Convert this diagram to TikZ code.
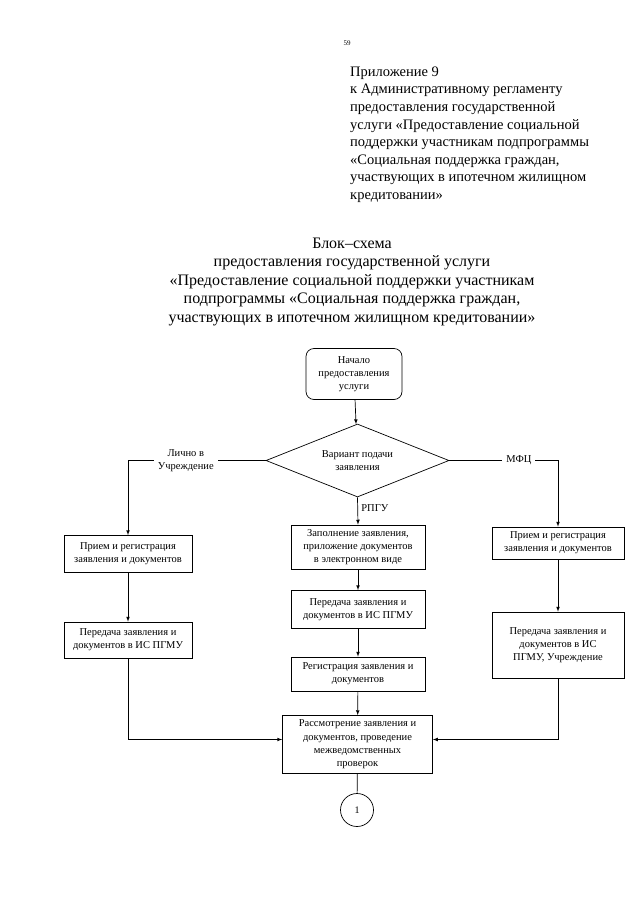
\documentclass[tikz,border=0pt]{standalone}
\usepackage{fontspec}
\setmainfont{Liberation Serif}
\usetikzlibrary{shapes.geometric,arrows,positioning}

\begin{document}
\begin{tikzpicture}[x=1pt,y=-1pt,
item/.style={rectangle,draw,line width=0.7pt,align=center,inner sep=1pt,
  font=\fontsize{10.5}{13.3}\selectfont},
itemr/.style={item,rounded corners=8pt},
cond/.style={diamond,draw,line width=0.7pt,aspect=2.5,inner sep=0pt,align=center,
  minimum width=183pt,minimum height=73pt,font=\fontsize{10.5}{13.3}\selectfont},
lbl/.style={fill=white,align=center,inner sep=4pt,font=\fontsize{10.5}{13.3}\selectfont},
arr/.style={line width=0.7pt,-latex}]
\useasboundingbox (0,0) rectangle (640,905);

\node[font=\fontsize{7}{8}\selectfont] (pg) at (347,43) {59};
\node[anchor=north west,align=left,inner sep=0pt,font=\fontsize{14.5}{17.6}\selectfont] (hdr) at (350,66.5)
{Приложение 9\\к Административному регламенту\\предоставления государственной\\услуги «Предоставление социальной\\поддержки участникам подпрограммы\\«Социальная поддержка граждан,\\участвующих в ипотечном жилищном\\кредитовании»};
\node[anchor=north,align=center,inner sep=0pt,font=\fontsize{16}{18.5}\selectfont] (ttl) at (352,237.5)
{Блок–схема\\предоставления государственной услуги\\«Предоставление социальной поддержки участникам\\подпрограммы «Социальная поддержка граждан,\\участвующих в ипотечном жилищном кредитовании»};

\node[itemr,minimum width=96pt,minimum height=51pt] (start) at (354,374) {Начало\\предоставления\\услуги};
\node[cond] (cond) at (357.5,460.5) {Вариант подачи\\заявления};

\node[item,minimum width=128pt,minimum height=37pt] (l1) at (128,554) {Прием и регистрация\\заявления и документов};
\node[item,minimum width=128pt,minimum height=36pt] (l2) at (128,640) {Передача заявления и\\документов в ИС ПГМУ};

\node[item,minimum width=134pt,minimum height=44pt] (c1) at (358,547) {Заполнение заявления,\\приложение документов\\в электронном виде};
\node[item,minimum width=134pt,minimum height=38pt] (c2) at (358,609.5) {Передача заявления и\\документов в ИС ПГМУ};
\node[item,minimum width=134pt,minimum height=34pt] (c3) at (358,674) {Регистрация заявления и\\документов};
\node[item,minimum width=150pt,minimum height=58pt] (rv) at (357.5,744.5) {Рассмотрение заявления и\\документов, проведение\\межведомственных\\проверок};

\node[item,minimum width=132pt,minimum height=32pt] (r1) at (558,543) {Прием и регистрация\\заявления и документов};
\node[item,minimum width=132pt,minimum height=66pt] (r2) at (558,645) {Передача заявления и\\документов в ИС\\ПГМУ, Учреждение};

\node[circle,draw,line width=0.7pt,minimum size=33pt,inner sep=0pt] (end1) at (357,810) {1};

\draw[arr] (start) -- (cond);
\draw[arr] (cond.west) -| node[lbl,pos=0.29] {Лично в\\Учреждение} (l1.north);
\draw[arr] (cond.east) -| node[lbl,pos=0.32] {МФЦ} (r1.north);
\draw[arr] (cond.south) -- node[right,pos=0.4,font=\fontsize{10.5}{13.3}\selectfont] {РПГУ} (c1.north);
\foreach \a/\b in {l1/l2,c1/c2,c2/c3,c3/rv,r1/r2}
\draw[arr] (\a) -- (\b);
\draw[arr] (l2.south) |- ([yshift=5pt]rv.west);
\draw[arr] (r2.south) |- ([yshift=5pt]rv.east);
\draw[line width=0.7pt] (rv) -- (end1);
\end{tikzpicture}
\end{document}
